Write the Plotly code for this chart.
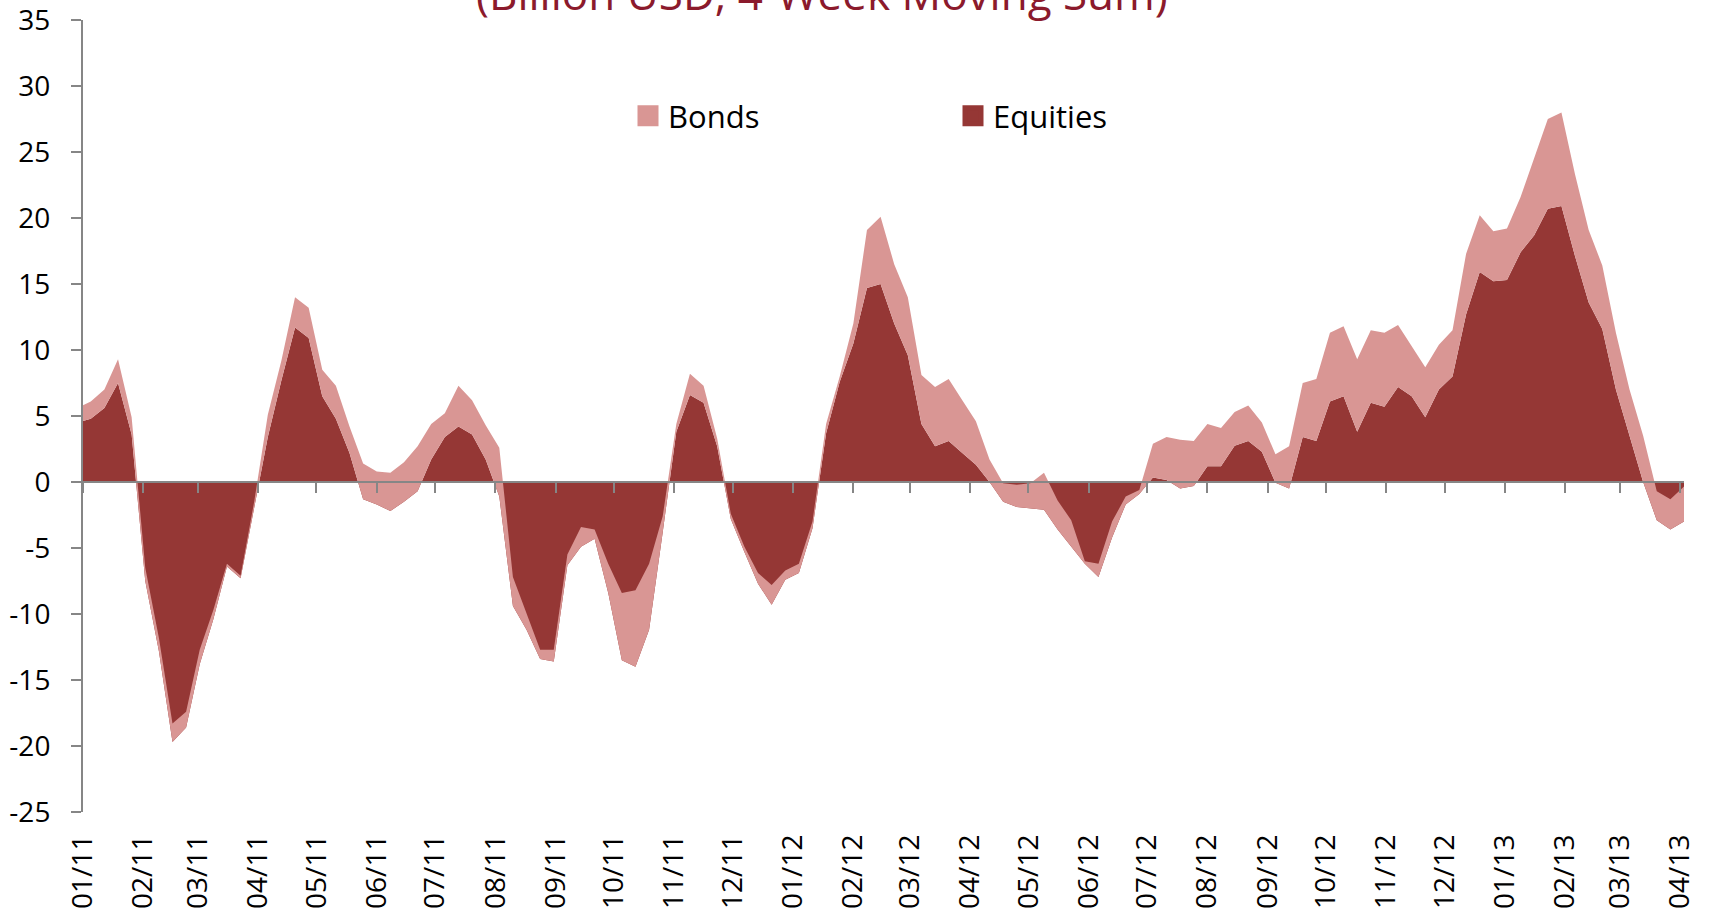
import pandas as pd
import plotly.graph_objects as go

# Weekly observations (Wednesdays), 4-week moving sums, billion USD
weeks = pd.date_range("2010-12-29", "2013-04-03", freq="7D")

equities = [
    4.5, 4.8, 5.6, 7.5, 3.6,
    -7.5, -12.8, -19.7, -18.6, -13.8,
    -10.4, -6.4, -7.3, -1.8, 3.4,
    7.7, 11.7, 10.9, 6.5, 4.8,
    2.2, -1.3, -1.7, -2.2, -1.5,
    -0.7, 1.7, 3.4, 4.2, 3.6,
    1.7, -1.1, -9.4, -11.2, -13.4,
    -13.6, -6.3, -4.9, -4.3, -8.4,
    -13.5, -14.0, -11.2, -3.8, 3.8,
    6.6, 6.0, 2.7, -2.8, -5.3,
    -7.7, -9.3, -7.4, -6.9, -3.5,
    3.7, 7.6, 10.5, 14.7, 15.0,
    12.0, 9.6, 4.4, 2.7, 3.1,
    2.2, 1.3, 0.0, -1.5, -1.9,
    -2.0, -2.1, -3.6, -4.9, -6.2,
    -7.2, -4.2, -1.7, -0.9, 0.35,
    0.15, -0.5, -0.3, 1.2, 1.2,
    2.75, 3.1, 2.3, -0.05, -0.5,
    3.4, 3.1, 6.1, 6.5, 3.8,
    6.0, 5.7, 7.2, 6.5, 4.9,
    7.0, 8.0, 12.7, 15.9, 15.2,
    15.3, 17.4, 18.7, 20.7, 20.9,
    17.1, 13.6, 11.6, 7.0, 3.4,
    0.0, -2.9, -3.6, -3.0,
]

bonds = [
    1.1, 1.3, 1.4, 1.8, 1.3,
    1.0, 1.0, 1.4, 1.2, 1.1,
    0.7, 0.2, 0.2, 0.3, 1.7,
    1.5, 2.3, 2.3, 2.0, 2.5,
    2.0, 2.7, 2.5, 2.9, 3.0,
    3.4, 2.7, 1.8, 3.1, 2.6,
    2.6, 3.7, 2.2, 1.2, 0.7,
    0.9, 0.8, 1.5, 0.7, 2.2,
    5.1, 5.8, 5.0, 1.2, 0.6,
    1.6, 1.3, 0.6, 0.4, 0.4,
    0.8, 1.5, 0.7, 0.7, 0.5,
    0.7, 0.4, 1.5, 4.4, 5.1,
    4.5, 4.4, 3.7, 4.5, 4.7,
    4.0, 3.3, 1.7, 1.4, 1.7,
    1.9, 2.8, 2.2, 2.0, 0.2,
    1.0, 1.2, 0.6, 0.3, 2.55,
    3.25, 3.7, 3.4, 3.2, 2.9,
    2.55, 2.7, 2.2, 2.15, 3.2,
    4.1, 4.7, 5.2, 5.3, 5.5,
    5.5, 5.6, 4.7, 3.8, 3.8,
    3.4, 3.5, 4.6, 4.3, 3.8,
    3.9, 4.2, 5.9, 6.8, 7.1,
    6.2, 5.5, 4.8, 4.3, 3.6,
    3.5, 2.2, 2.3, 2.65,
]

month_ticks = pd.date_range("2011-01-01", "2013-04-01", freq="MS")
month_labels = [d.strftime("%m/%y") for d in month_ticks]

y_ticks = [-25, -20, -15, -10, -5, 0, 5, 10, 15, 20, 25, 30, 35]
y_labels = [str(v) for v in y_ticks]

title_text = "(Billion USD, 4-Week Moving Sum)"

DARK = "#953735"
LIGHT = "#D99694"
AXIS = "#868686"
FONT = "Open Sans"

W, H = 1710, 914
L, R, T, B = 83, 26, 20, 102
PW, PH = W - L - R, H - T - B
x_range = ["2011-01-01", "2013-04-03"]
y_min, y_max = -25, 35


def px_x(px):
    return (px - L) / PW


def px_y(py):
    return 1 - (py - T) / PH


fig = go.Figure()

# stacked areas: equities at the base, bonds stacked on top
fig.add_trace(go.Scatter(
    x=weeks, y=equities, name="Equities", stackgroup="flows",
    mode="lines", line=dict(width=0, color=DARK), fillcolor=DARK,
    showlegend=False, hoverinfo="skip",
))
fig.add_trace(go.Scatter(
    x=weeks, y=bonds, name="Bonds", stackgroup="flows",
    mode="lines", line=dict(width=0, color=LIGHT), fillcolor=LIGHT,
    showlegend=False, hoverinfo="skip",
))

# square legend swatches
fig.add_trace(go.Scatter(
    x=[None], y=[None], name="Bonds", mode="markers",
    marker=dict(symbol="square", size=16, color=LIGHT, line=dict(width=5, color=LIGHT)),
    legend="legend", xaxis="x2",
))
fig.add_trace(go.Scatter(
    x=[None], y=[None], name="Equities", mode="markers",
    marker=dict(symbol="square", size=16, color=DARK, line=dict(width=5, color=DARK)),
    legend="legend2", xaxis="x2",
))

zero_pos = (0 - y_min) / (y_max - y_min)

legend_common = dict(
    xref="paper", yref="paper", xanchor="left", yanchor="middle",
    font=dict(family=FONT, size=31, color="black"),
    bgcolor="rgba(0,0,0,0)", borderwidth=0,
)

fig.update_layout(
    width=W, height=H,
    margin=dict(l=L, r=R, t=T, b=B, autoexpand=False),
    paper_bgcolor="white", plot_bgcolor="white",
    font=dict(family=FONT, size=28, color="black"),
    xaxis=dict(
        type="date", range=x_range, domain=[0, 1],
        tickmode="array", tickvals=month_ticks, ticktext=month_labels,
        tickangle=-90, ticks="", showline=False, showgrid=False, zeroline=False,
        tickfont=dict(family=FONT, size=28, color="black"),
        ticklabelstandoff=16,
    ),
    xaxis2=dict(
        type="date", range=x_range, overlaying="x", matches="x",
        anchor="free", position=zero_pos,
        tickmode="array", tickvals=month_ticks,
        showticklabels=False, ticks="outside", ticklen=10, tickwidth=2, tickcolor=AXIS,
        showline=True, linecolor=AXIS, linewidth=2, showgrid=False, zeroline=False,
    ),
    yaxis=dict(
        range=[y_min, y_max], domain=[0, 1],
        tickmode="array", tickvals=y_ticks, ticktext=y_labels,
        ticks="outside", ticklen=10, tickwidth=2, tickcolor=AXIS,
        showline=True, linecolor=AXIS, linewidth=2,
        showgrid=False, zeroline=False,
        tickfont=dict(family=FONT, size=28, color="black"),
        ticklabelstandoff=15, ticklabeloverflow="allow",
    ),
    legend=dict(x=px_x(628), y=px_y(116), **legend_common),
    legend2=dict(x=px_x(953), y=px_y(116), **legend_common),
    annotations=[dict(
        text=title_text, xref="paper", yref="paper",
        x=px_x(822), y=px_y(25),
        xanchor="center", yanchor="bottom", showarrow=False,
        font=dict(family=FONT, size=44, color="#8B1A2C"),
    )],
)

fig.write_html("out.html")
